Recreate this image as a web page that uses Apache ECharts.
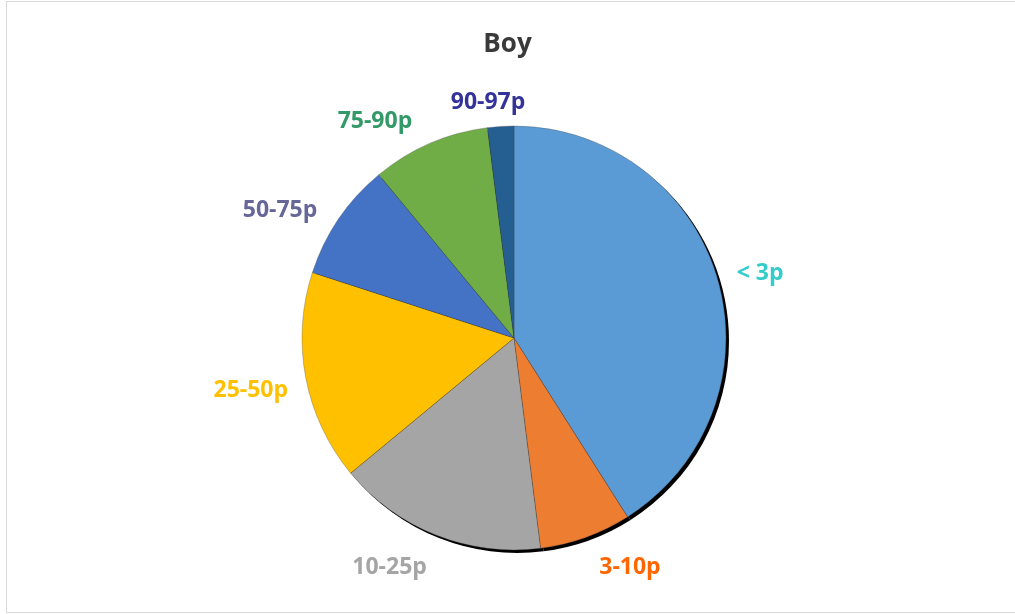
<!DOCTYPE html>
<html>
<head>
<meta charset="utf-8">
<script src="https://cdn.jsdelivr.net/npm/echarts@6/dist/echarts.min.js"></script>
<style>
  html, body { margin: 0; padding: 0; background: #fff; }
  #frame { position: absolute; left: 6px; top: 1px; width: 1020px; height: 610px; border: 1px solid #d9d9d9; }
  #myChart { position: absolute; left: 0; top: 0; width: 1015px; height: 614px; }
</style>
</head>
<body>
<div id="frame"></div>
<div id="myChart"></div>
<script>
// 数据
var categories = ["< 3p", "3-10p", "10-25p", "25-50p", "50-75p", "75-90p", "90-97p"];
var values = [41, 7, 16, 16, 9, 9, 2];
var sliceColors = ["#5B9BD5", "#ED7D31", "#A5A5A5", "#FFC000", "#4472C4", "#70AD47", "#255E91"];
var labelColors = ["#33CCCC", "#FF6600", "#A5A5A5", "#FFC000", "#666699", "#339966", "#333399"];
// 标签微调 (像 Excel 里手动拖过的位置)
var labelNudge = [[-7, 1], [1, 9], [4, 12], [4, 9], [-3, 4], [5, -8], [31, -2]];

var myChart = echarts.init(document.getElementById("myChart"));

var pieData = [];
var shadowData = [];
for (var i = 0; i < categories.length; i++) {
  pieData.push({
    name: categories[i],
    value: values[i],
    itemStyle: { color: sliceColors[i] },
    label: { color: labelColors[i] }
  });
  shadowData.push({ name: categories[i], value: values[i] });
}

myChart.setOption({
  animation: false,
  title: {
    text: "Boy",
    left: "center",
    top: 27,
    textStyle: {
      fontFamily: "Open Sans",
      fontSize: 26,
      fontWeight: "bold",
      color: "#3a3a3a"
    }
  },
  series: [
    {
      // 阴影
      type: "pie",
      silent: true,
      center: [517, 341],
      radius: 212,
      label: { show: false },
      labelLine: { show: false },
      itemStyle: { color: "#000", borderWidth: 0 },
      data: shadowData
    },
    {
      name: "Boy",
      type: "pie",
      center: [514, 338],
      radius: 212,
      startAngle: 90,
      clockwise: true,
      itemStyle: {
        borderColor: "rgba(60,60,60,0.5)",
        borderWidth: 0.6
      },
      label: {
        show: true,
        position: "outside",
        formatter: "{b}",
        fontFamily: "Open Sans",
        fontSize: 23,
        fontWeight: "bold"
      },
      labelLine: {
        show: false,
        length: 22,
        length2: 0
      },
      labelLayout: function (params) {
        var n = labelNudge[params.dataIndex];
        return { dx: n[0], dy: n[1] };
      },
      data: pieData
    }
  ]
});
</script>
</body>
</html>
